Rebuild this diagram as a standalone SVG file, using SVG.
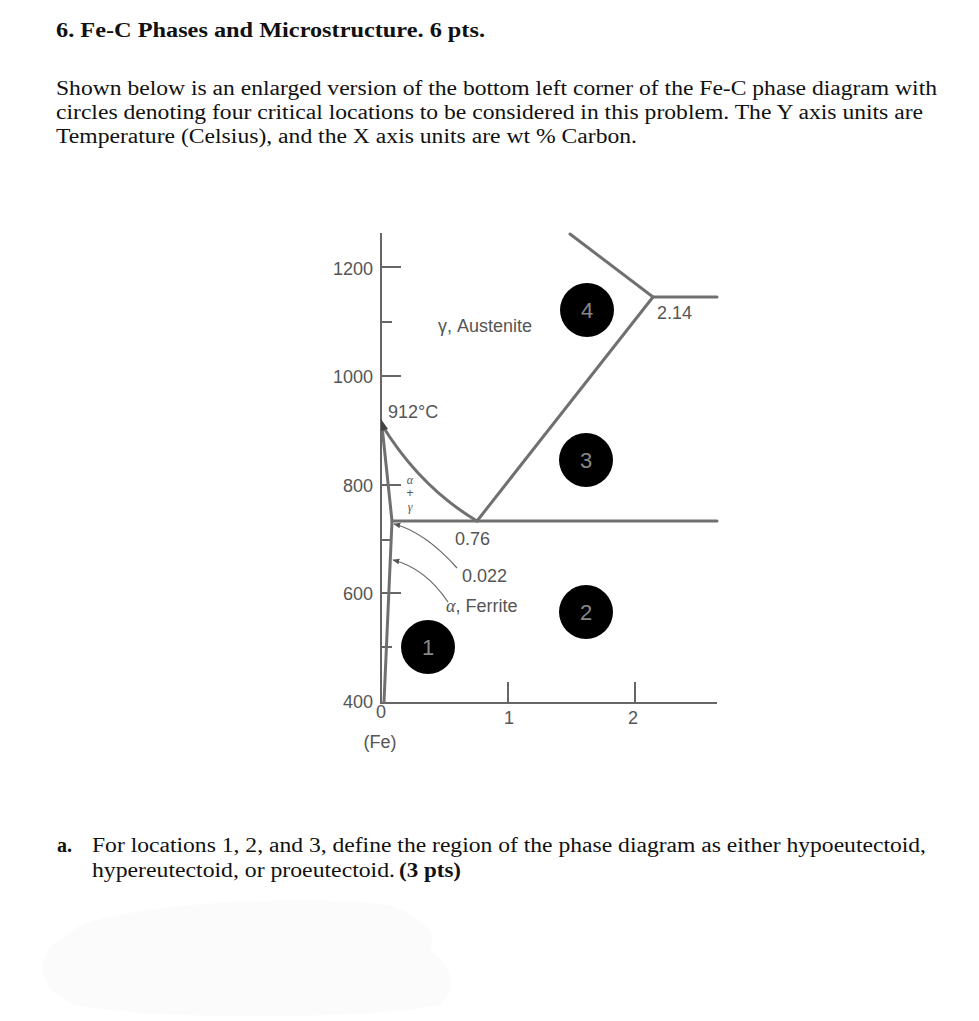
<svg xmlns="http://www.w3.org/2000/svg" width="979" height="1021" viewBox="0 0 979 1021">
<style>
.hd{font-family:"Liberation Serif","Times New Roman",serif;fill:#111}
.b{font-weight:bold}
.lab{font-family:"Liberation Sans",Arial,sans-serif;fill:#555;font-size:18px}
.ax{stroke:#666;stroke-width:2;fill:none}
.ph{stroke:#707070;stroke-width:3;fill:none;stroke-linecap:round}
.ld{stroke:#666;stroke-width:1.2;fill:none}
.dot{fill:#000}
.num{font-family:"Liberation Sans",Arial,sans-serif;fill:#888;font-size:22px;text-anchor:middle}
.gr{font-family:"Liberation Serif","Times New Roman",serif;font-style:italic;fill:#555}
</style>
<defs>
<marker id="ah" viewBox="0 0 10 10" refX="9" refY="5" markerWidth="7" markerHeight="7" orient="auto" markerUnits="userSpaceOnUse">
<path d="M0,1 L10,5 L0,9 z" fill="#555"/>
</marker>
</defs>
<rect width="979" height="1021" fill="#fff"/>

<g id="smudges" fill="#fbfbfb">
<path d="M80,925 C150,900 320,895 390,905 C420,915 440,935 430,950 C450,965 460,985 440,1005 C360,1020 150,1020 75,1005 C40,990 30,960 60,940 Z"/>
</g>

<g id="header">
<text class="hd b" x="56" y="37" font-size="20" textLength="429" lengthAdjust="spacingAndGlyphs">6. Fe-C Phases and Microstructure. 6 pts.</text>
<text class="hd" x="56" y="95" font-size="20" textLength="881" lengthAdjust="spacingAndGlyphs">Shown below is an enlarged version of the bottom left corner of the Fe-C phase diagram with</text>
<text class="hd" x="56" y="119" font-size="20" textLength="867" lengthAdjust="spacingAndGlyphs">circles denoting four critical locations to be considered in this problem. The Y axis units are</text>
<text class="hd" x="56" y="143" font-size="20" textLength="581" lengthAdjust="spacingAndGlyphs">Temperature (Celsius), and the X axis units are wt % Carbon.</text>
</g>

<g id="axes">
<path class="ax" d="M381,233 V703 H717"/>
<path class="ax" d="M381,267 H401 M381,322 H392 M381,376 H401 M381,485 H401 M381,540 H392 M381,593 H401 M381,647 H392"/>
<path class="ax" d="M508,682 V703 M635,682 V703"/>
<g class="lab" text-anchor="end">
<text x="373" y="275">1200</text>
<text x="373" y="383">1000</text>
<text x="373" y="492">800</text>
<text x="373" y="600">600</text>
<text x="373" y="708">400</text>
</g>
<text class="lab" x="381" y="718" font-size="14" text-anchor="middle">0</text>
<text class="lab" x="380" y="748" text-anchor="middle">(Fe)</text>
<text class="lab" x="509" y="724" font-size="16" text-anchor="middle">1</text>
<text class="lab" x="633" y="724" font-size="16" text-anchor="middle">2</text>
</g>

<g id="phase-lines">
<path class="ph" d="M570,234 L653,297 L717,297"/>
<path class="ph" d="M653,297 L477,521"/>
<path class="ph" d="M392,521 H717"/>
<path class="ph" d="M382,425 Q420,487 477,521"/>
<path class="ph" d="M382,426 L392,521 Q388,620 384,702"/>
<polygon points="381,419 388,429 381,431" fill="#444"/>
</g>

<g id="connectors">
<path class="ld" d="M457,568 Q425,532 394,524" marker-end="url(#ah)"/>
<path class="ld" d="M448,602 Q425,568 393,560" marker-end="url(#ah)"/>
</g>

<g id="labels">
<text class="lab" x="388" y="418">912°C</text>
<text class="lab" x="438" y="332">γ, Austenite</text>
<text class="lab" x="657" y="319">2.14</text>
<text class="lab" x="455" y="545">0.76</text>
<text class="lab" x="462" y="582">0.022</text>
<text class="lab" x="446" y="612"><tspan class="gr">α</tspan>, Ferrite</text>
<g class="gr" font-size="12" text-anchor="middle">
<text x="410" y="484">α</text>
<text x="410" y="497" font-style="normal" font-family="Liberation Sans, Arial, sans-serif">+</text>
<text x="410" y="511">γ</text>
</g>
</g>

<g id="node-1"><circle class="dot" cx="428" cy="647" r="27"/><text class="num" x="428" y="655">1</text></g>
<g id="node-2"><circle class="dot" cx="586" cy="612" r="27"/><text class="num" x="586" y="620">2</text></g>
<g id="node-3"><circle class="dot" cx="586" cy="460" r="27"/><text class="num" x="586" y="468">3</text></g>
<g id="node-4"><circle class="dot" cx="587" cy="310" r="27"/><text class="num" x="587" y="318">4</text></g>

<g id="question">
<text class="hd b" x="57" y="852" font-size="20">a.</text>
<text class="hd" x="92" y="852" font-size="20" textLength="834" lengthAdjust="spacingAndGlyphs">For locations 1, 2, and 3, define the region of the phase diagram as either hypoeutectoid,</text>
<text class="hd" x="92" y="877" font-size="20" textLength="303" lengthAdjust="spacingAndGlyphs">hypereutectoid, or proeutectoid.</text>
<text class="hd b" x="399" y="877" font-size="20" textLength="62" lengthAdjust="spacingAndGlyphs">(3 pts)</text>
</g>
</svg>
